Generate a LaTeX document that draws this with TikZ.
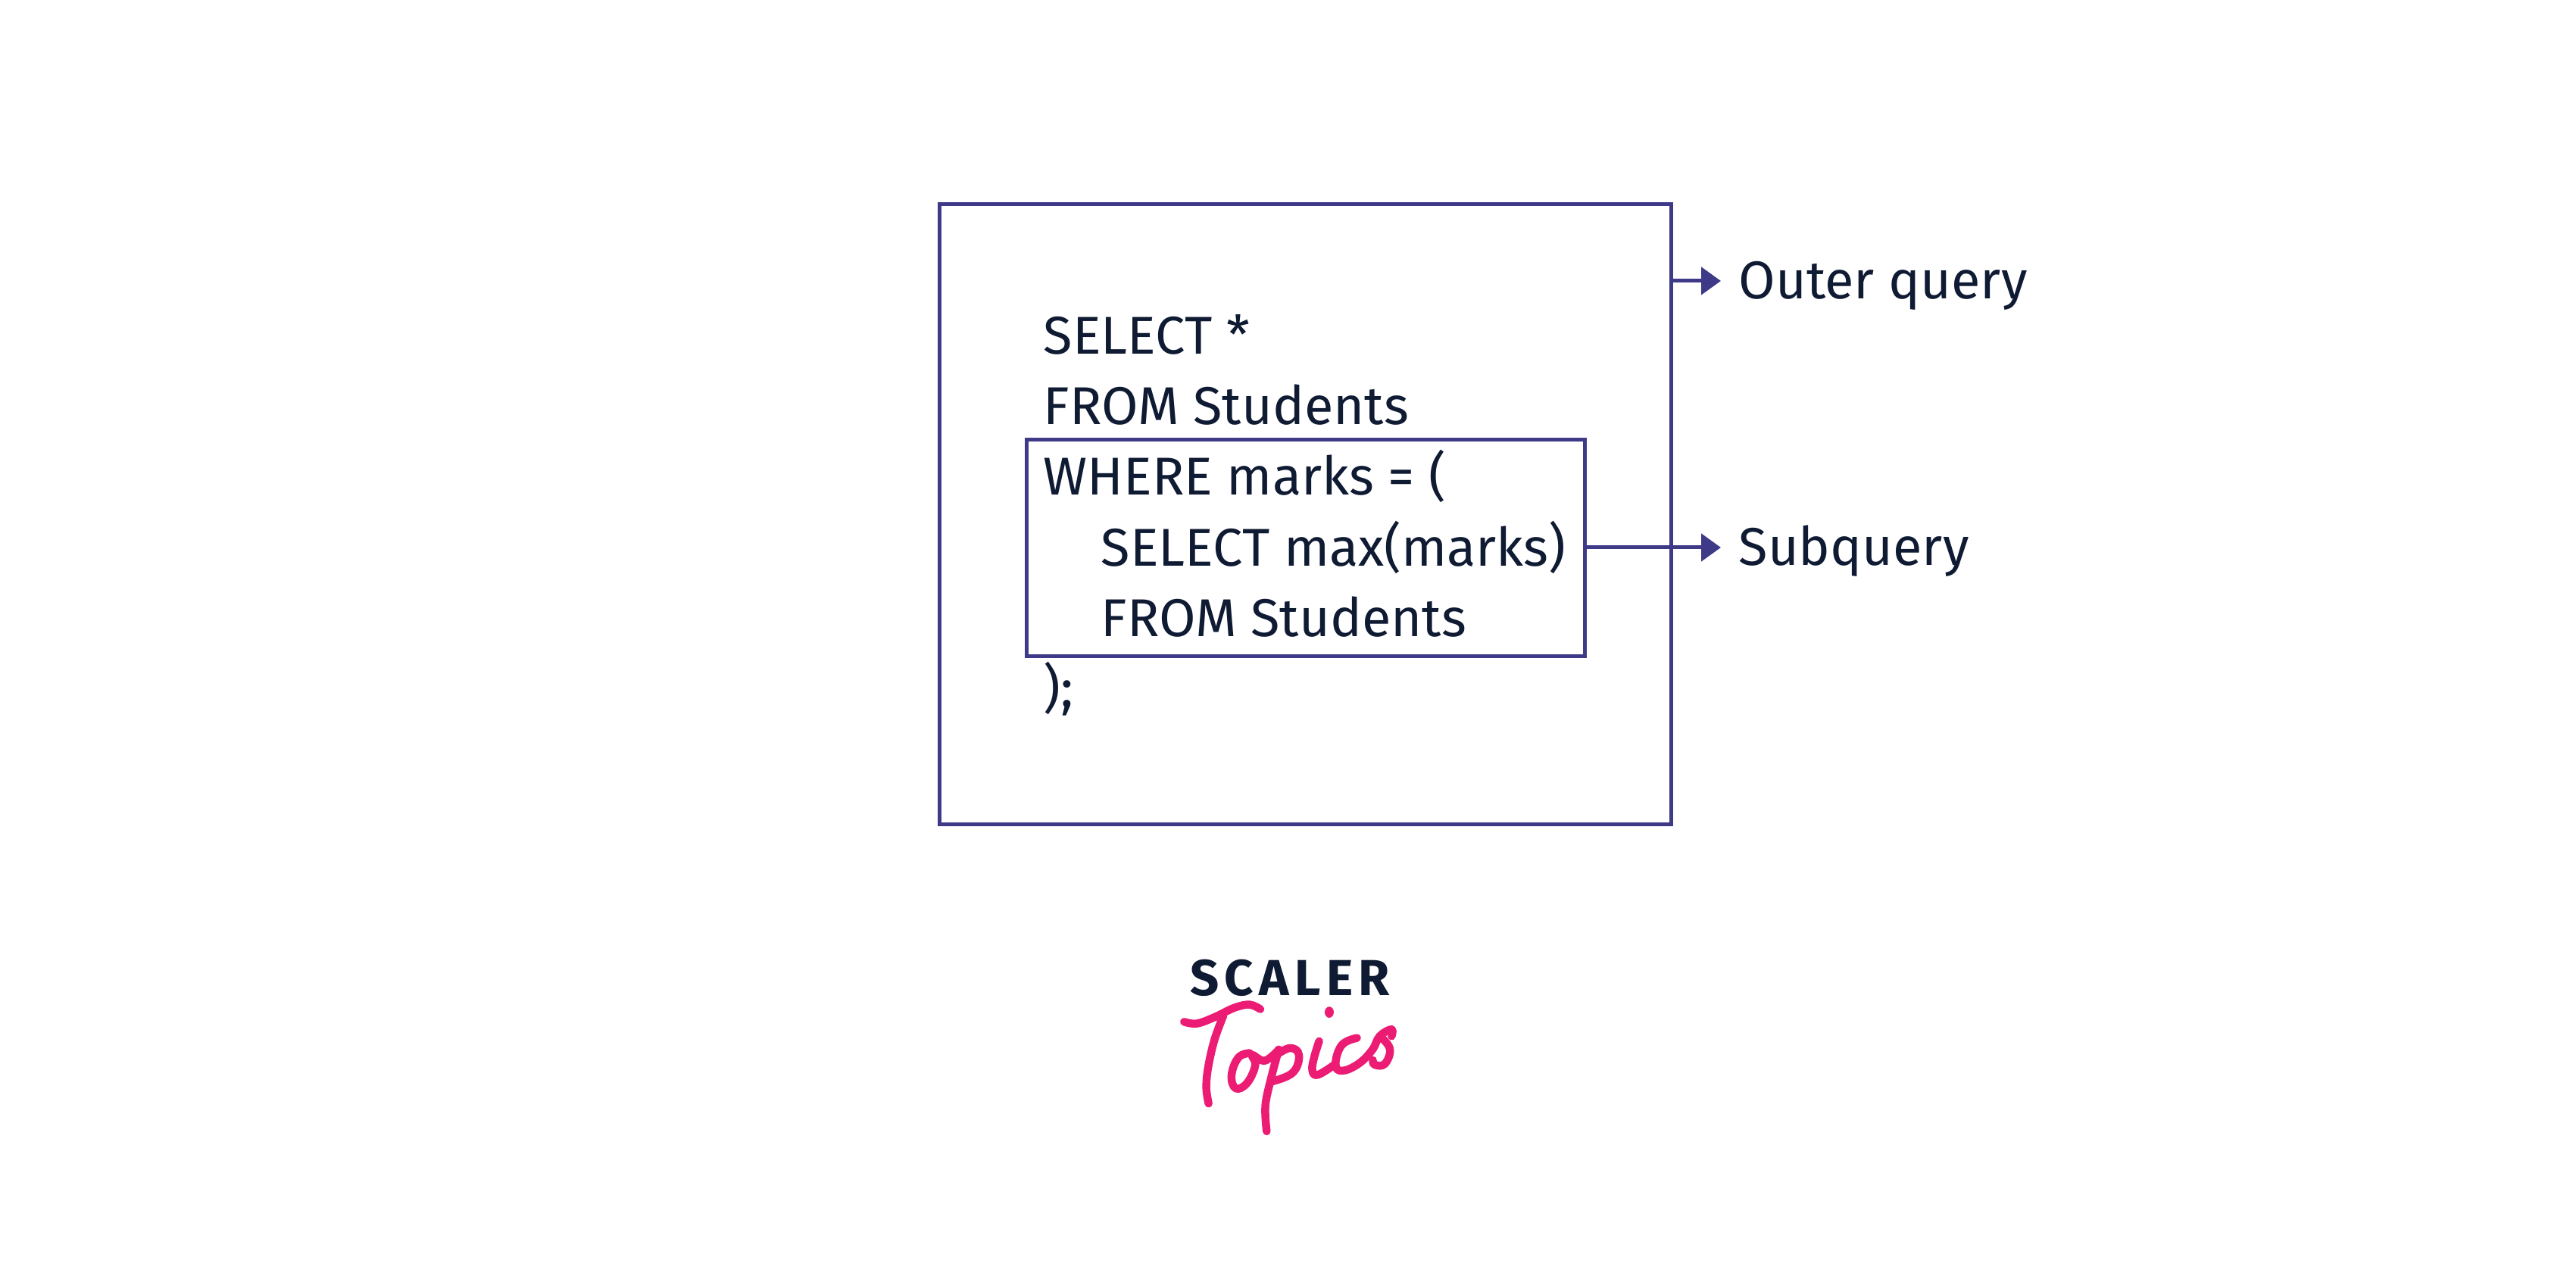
\documentclass[tikz,border=0pt]{standalone}
\usepackage{fontspec}
\setmainfont{Fira Sans}
\newfontfamily\logofont[LetterSpace=11]{Fira Sans}
\usepackage{xcolor}
\usepackage{tikz}
\usetikzlibrary{arrows.meta}
\definecolor{boxblue}{HTML}{3F3A87}
\definecolor{inkblue}{HTML}{0F1A33}
\definecolor{logopink}{HTML}{EC1C74}
\tikzset{
    querybox/.style={draw=boxblue, line width=0.5mm, inner sep=0pt},
    code/.style={anchor=base west, inner sep=0pt, text=inkblue, font=\fontsize{20}{24}\selectfont},
    tag/.style={code, anchor=west, text height=6.2mm, text depth=1.4mm},
    link/.style={draw=boxblue, line width=0.5mm, -{Triangle[length=2.6mm,width=3.6mm]}, shorten >=2.3mm},
    pen/.style={draw=logopink, line width=1.05mm, line cap=round, line join=round},
}
\begin{document}
\begin{tikzpicture}
    \useasboundingbox (0,0) rectangle (34.01,16.81);
    \node[querybox, minimum width=9.66cm, minimum height=8.19cm] at(17.23,10.015)(outer){};
    \node[querybox, minimum width=7.37cm, minimum height=2.86cm] at(17.235,9.57)(inner){};
    \node[code] at(13.77,12.13)(line1){SELECT *};
    \node[code] at(13.77,11.20)(line2){FROM Students};
    \node[code] at(13.77,10.27)(line3){WHERE marks = (};
    \node[code] at(14.53,9.33)(line4){SELECT max(marks)};
    \node[code] at(14.53,8.40)(line5){FROM Students};
    \node[code] at(13.77,7.47)(line6){);};
    \node[tag] at(22.95,13.10)(outertag){Outer query};
    \node[tag] at(22.95,9.58)(subtag){Subquery};
    \draw[link] (outer.east |- outertag.west) -- (outertag.west);
    \draw[link] (inner.east |- subtag.west) -- (subtag.west);
    \node[anchor=base, inner sep=0pt, text=inkblue, font=\logofont\bfseries\fontsize{19}{20}\selectfont] at(17.03,3.66)(scaler){SCALER};
    % handwritten word
    \begin{scope}[shift={(15,4.51)}, x=0.03333mm, y=-0.03333mm]
        \draw[pen] plot[smooth, tension=0.6] coordinates {(190,358) (240,365) (310,340) (390,302) (450,290) (492,308)};
        \draw[pen] plot[smooth, tension=0.6] coordinates {(345,335) (310,430) (285,540) (278,620) (287,682)};
        \draw[pen] plot[smooth, tension=0.7] coordinates {(450,482) (405,500) (378,570) (395,622) (440,600) (472,530) (460,490) (510,512) (565,468)};
        \draw[pen] plot[smooth, tension=0.6] coordinates {(565,468) (535,580) (512,690) (517,792)};
        \draw[pen] plot[smooth, tension=0.7] coordinates {(555,490) (610,462) (645,490) (620,560) (535,595)};
        \draw[pen] plot[smooth, tension=0.7] coordinates {(725,435) (705,500) (698,550) (720,568) (790,525)};
        \draw[pen] plot[smooth, tension=0.7] coordinates {(875,422) (815,450) (790,525) (815,552) (880,525) (935,470) (965,415) (1012,388) (1012,415)};
        \draw[pen] plot[smooth, tension=0.7] coordinates {(965,415) (1005,465) (985,525) (945,528) (938,510)};
        \fill[logopink] (765,320) ellipse (18 and 22);
    \end{scope}
\end{tikzpicture}
\end{document}
